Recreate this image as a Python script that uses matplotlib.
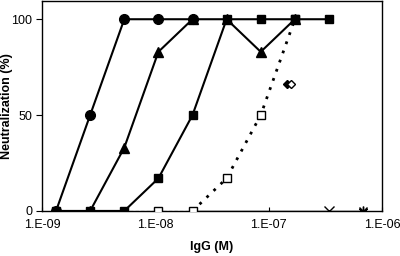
import matplotlib
matplotlib.use("Agg")
import matplotlib.pyplot as plt
import numpy as np
from matplotlib.ticker import FixedLocator, NullLocator

plt.rcParams["font.family"] = ["Liberation Sans", "DejaVu Sans"]

# twofold dilution series of IgG (M)
conc = [1.33e-9, 2.66e-9, 5.32e-9, 1.064e-8, 2.128e-8, 4.256e-8,
        8.512e-8, 1.7024e-7, 3.4048e-7, 6.8096e-7]

circle_conc = conc[0:5]
circle_neut = [0, 50, 100, 100, 100]

triangle_conc = conc[1:8]
triangle_neut = [0, 33, 83, 100, 100, 83, 100]

square_conc = conc[0:9]
square_neut = [0, 0, 0, 17, 50, 100, 100, 100, 100]

open_square_conc = conc[3:8]
open_square_neut = [0, 0, 17, 50, 100]

diamond_conc = [1.45e-7]
diamond_neut = [66]
open_diamond_conc = [1.58e-7]
open_diamond_neut = [66]

cross_conc = [conc[8]]
cross_neut = [0]
star_conc = [conc[9]]
star_neut = [0]

xticks = [1e-9, 1e-8, 1e-7, 1e-6]
xtick_labels = ["1.E-09", "1.E-08", "1.E-07", "1.E-06"]
yticks = [0, 50, 100]

fig = plt.figure(figsize=(4.0, 2.56), dpi=100)
ax = fig.add_axes([0.105, 0.176, 0.85, 0.82])

# zero-baseline line through the untested/negative points
ax.plot([conc[4], conc[9]], [0, 0], color="black", lw=1.0, zorder=2)
ax.plot([conc[2], conc[4]], [0, 0], color="black", lw=0.8, ls=(0, (3, 2)), zorder=2)

ax.plot(open_square_conc[1:], open_square_neut[1:], color="black", lw=2.0,
        ls=(0, (1, 2.5)), zorder=3)
ax.plot(open_square_conc, open_square_neut, ls="none", marker="s", ms=6,
        mfc="white", mec="black", mew=1.0, zorder=4)

ax.plot(circle_conc, circle_neut, color="black", lw=1.5, marker="o", ms=7, zorder=5)
ax.plot(triangle_conc, triangle_neut, color="black", lw=1.5, marker="^", ms=6.5, zorder=5)
ax.plot(square_conc, square_neut, color="black", lw=1.5, marker="s", ms=6, zorder=5)

ax.plot(diamond_conc, diamond_neut, ls="none", marker="D", ms=4.5, color="black", zorder=5)
ax.plot(open_diamond_conc, open_diamond_neut, ls="none", marker="D", ms=4.5,
        mfc="white", mec="black", mew=1.0, zorder=5)
ax.plot(cross_conc, cross_neut, ls="none", marker="x", ms=6.5, mew=1.0, color="black", zorder=5)
ax.plot(star_conc, star_neut, ls="none", marker=(6, 2, 0), ms=7, mew=1.0, color="black", zorder=5)
ax.plot(star_conc, star_neut, ls="none", marker="x", ms=6, mew=1.0, color="black", zorder=5)

ax.set_xscale("log")
ax.set_xlim(1e-9, 1e-6)
ax.set_ylim(0, 109.5)
ax.xaxis.set_major_locator(FixedLocator(xticks))
ax.xaxis.set_minor_locator(NullLocator())
ax.set_xticklabels(xtick_labels)
ax.set_yticks(yticks)

ax.tick_params(axis="x", direction="in", length=3, width=0.8, labelsize=9, pad=6)
ax.tick_params(axis="y", direction="out", length=4, width=0.8, labelsize=9, pad=3)

for side in ["left", "bottom", "top", "right"]:
    ax.spines[side].set_linewidth(1.0)

ax.set_xlabel("IgG (M)", fontweight="bold", fontsize=9, labelpad=7)
ax.set_ylabel("Neutralization (%)", fontweight="bold", fontsize=9)
ax.yaxis.set_label_coords(-0.086, 0.5)

fig.savefig("out.png", dpi=100)
